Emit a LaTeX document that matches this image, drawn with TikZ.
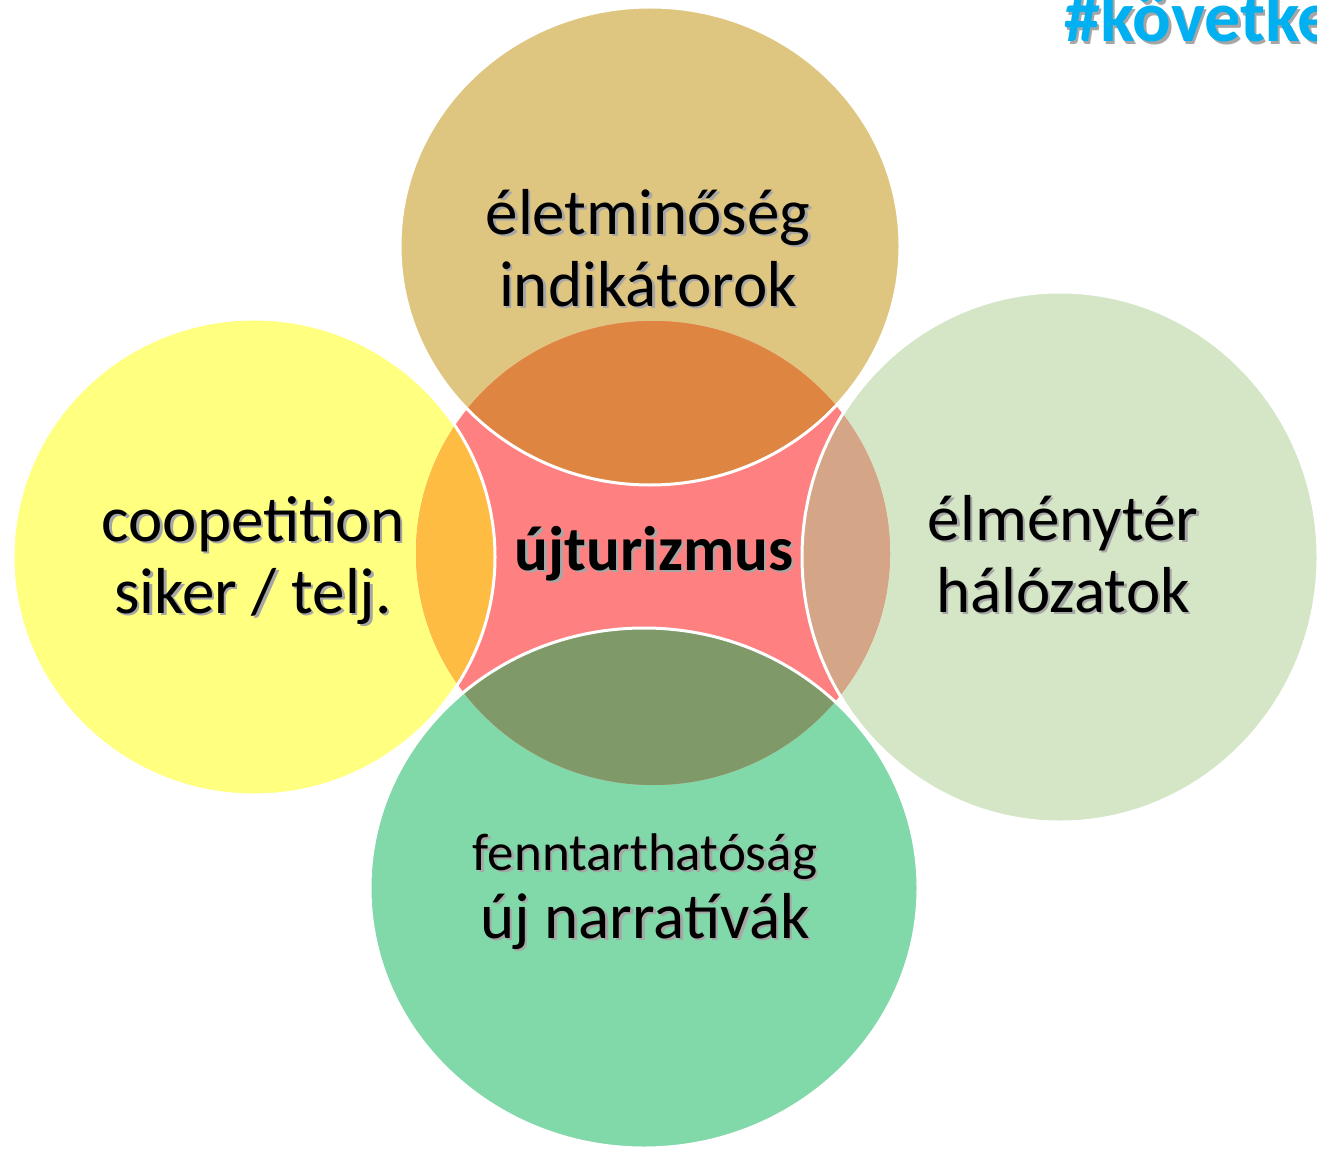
\documentclass[tikz,border=0pt]{standalone}
\usepackage{fontspec}
\setmainfont{Carlito}
\definecolor{ctrcol}{HTML}{FF8080}
\definecolor{topcol}{HTML}{DFC680}
\definecolor{topov}{HTML}{DE8542}
\definecolor{lftcol}{HTML}{FFFF80}
\definecolor{lftov}{HTML}{FEBD42}
\definecolor{rgtcol}{HTML}{D5E6C6}
\definecolor{rgtov}{HTML}{D4A586}
\definecolor{botcol}{HTML}{81D8A9}
\definecolor{botov}{HTML}{809969}
\definecolor{hashblue}{HTML}{00B0F0}
\tikzstyle{lbl} = [font=\fontsize{65}{72}\selectfont, align=center, anchor=base, text=black, inner sep=0pt]
\tikzstyle{shade} = [text=black!35, xshift=2.5pt, yshift=-2.5pt]
\tikzstyle{rim} = [draw=white, line width=3pt]
\begin{document}
\begin{tikzpicture}[x=1pt, y=-1pt]
        \useasboundingbox (0,0) rectangle (1317,1150);
        \clip (0,0) rectangle (1317,1150);
        % centres of the circles
        \coordinate (ctr) at (653,553);
        \coordinate (top) at (650,246);
        \coordinate (lft) at (254,557);
        \coordinate (rgt) at (1060,557);
        \coordinate (bot) at (644,888);
        % outer circles
        \fill [topcol] (top) ellipse [x radius=250, y radius=239];
        \fill [lftcol] (lft) ellipse [x radius=241, y radius=238];
        \fill [rgtcol] (rgt) ellipse [x radius=258, y radius=265];
        \fill [botcol] (bot) ellipse [x radius=274, y radius=260];
        % centre circle and the overlaps
        \fill [ctrcol] (ctr) ellipse [x radius=237, y radius=232];
        \begin{scope}
            \clip (ctr) ellipse [x radius=237, y radius=232];
            \fill [topov] (top) ellipse [x radius=250, y radius=239];
            \fill [lftov] (lft) ellipse [x radius=241, y radius=238];
            \fill [rgtov] (rgt) ellipse [x radius=258, y radius=265];
            \fill [botov] (bot) ellipse [x radius=274, y radius=260];
        \end{scope}
        \draw [rim] (top) ellipse [x radius=250, y radius=239];
        \draw [rim] (lft) ellipse [x radius=241, y radius=238];
        \draw [rim] (rgt) ellipse [x radius=258, y radius=265];
        \draw [rim] (bot) ellipse [x radius=274, y radius=260];
        % labels (anchored at the baseline of their last line)
        \node [lbl, shade] at (648,306) {életminőség\\indikátorok};
        \node [lbl] (toptxt) at (648,306) {életminőség\\indikátorok};
        \node [lbl, shade] at (253,613) {coopetition\\siker / telj.};
        \node [lbl] (lfttxt) at (253,613) {coopetition\\siker / telj.};
        \node [lbl, shade] at (1063,612) {élménytér\\hálózatok};
        \node [lbl] (rgttxt) at (1063,612) {élménytér\\hálózatok};
        \node [lbl, shade, font=\fontsize{65}{68}\selectfont] at (645,938) {{\fontsize{53}{58}\selectfont fenntarthatóság}\\új narratívák};
        \node [lbl, font=\fontsize{65}{68}\selectfont] (bottxt) at (645,938) {{\fontsize{53}{58}\selectfont fenntarthatóság}\\új narratívák};
        \node [lbl, shade, font=\fontsize{63}{68}\selectfont\bfseries] at (654,570) {újturizmus};
        \node [lbl, font=\fontsize{63}{68}\selectfont\bfseries] (ctrtxt) at (654,570) {újturizmus};
        % heading in the corner
        \node [lbl, shade, anchor=base west, font=\fontsize{72}{76}\selectfont\bfseries] at (1064,42) {\#következő};
        \node [lbl, anchor=base west, text=hashblue, font=\fontsize{72}{76}\selectfont\bfseries] (hash) at (1064,42) {\#következő};
\end{tikzpicture}
\end{document}
